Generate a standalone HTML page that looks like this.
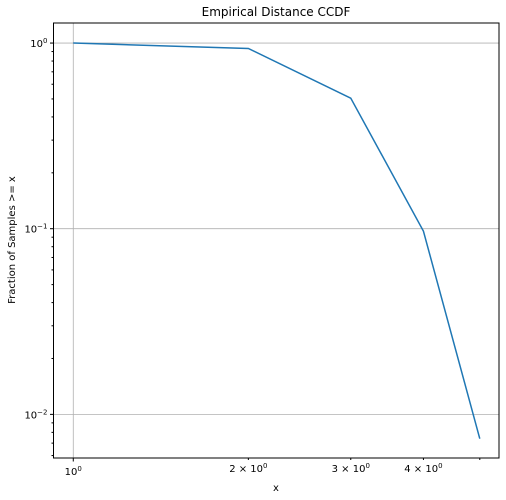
<!DOCTYPE html>
<html><head><meta charset="utf-8"><style>
body{margin:0;background:#fff;}
svg{display:block;font-family:"DejaVu Sans","Liberation Sans",sans-serif;}
</style></head><body>
<svg id="chart" width="506" height="500">
<text x="276" y="16" text-anchor="middle" font-size="12">Empirical Distance CCDF</text>
<text x="276" y="491" text-anchor="middle" font-size="10">x</text>
<text x="0" y="0" transform="translate(15,240) rotate(-90)" text-anchor="middle" font-size="10">Fraction of Samples &gt;= x</text>
</svg>
<script>
const xValues = [1, 2, 3, 4, 5];
const yValues = [1.0, 0.935, 0.505, 0.097, 0.0074];
const xMajorTicks = [1];
const xMajorLabels = ["0"];
const xMinorLabeled = [2, 3, 4];
const yMajorTicks = [1, 0.1, 0.01];
const yMajorExp = ["0", "\u22121", "\u22122"];

const L=53.5,R=499,T=23,B=458;
const xLogMin=-0.034,xLogMax=0.732,yLogMin=-2.235,yLogMax=0.108;
const sx=v=>L+(Math.log10(v)-xLogMin)/(xLogMax-xLogMin)*(R-L);
const sy=v=>B-(Math.log10(v)-yLogMin)/(yLogMax-yLogMin)*(B-T);
const NS="http://www.w3.org/2000/svg";
const svg=document.getElementById('chart');
function mk(tag,attrs,parent){const e=document.createElementNS(NS,tag);for(const k in attrs)e.setAttribute(k,attrs[k]);(parent||svg).appendChild(e);return e;}

xMajorTicks.forEach(v=>{const g=mk('line',{x1:sx(v),x2:sx(v),y1:T,y2:B,stroke:'#b0b0b0','stroke-width':0.8});

});
yMajorTicks.forEach(v=>{const g=mk('line',{x1:L,x2:R,y1:sy(v),y2:sy(v),stroke:'#b0b0b0','stroke-width':0.8});

});

const pts=xValues.map((x,i)=>sx(x)+','+sy(yValues[i])).join(' ');
const line=mk('polyline',{points:pts,fill:'none',stroke:'#1f77b4','stroke-width':1.5});



const fr=mk('rect',{x:L,y:T,width:R-L,height:B-T,fill:'none',stroke:'#000','stroke-width':1});



xMajorTicks.forEach((v,i)=>{mk('line',{x1:sx(v),x2:sx(v),y1:B,y2:B+3.5,stroke:'#000'});
const t=mk('text',{x:sx(v),y:B+17,'text-anchor':'middle','font-size':10});


t.innerHTML='10<tspan dy="-4" font-size="7">'+xMajorLabels[i]+'</tspan>';});
xMinorLabeled.concat([5]).forEach(v=>{mk('line',{x1:sx(v),x2:sx(v),y1:B,y2:B+2,stroke:'#000'});});
xMinorLabeled.forEach(v=>{const t=mk('text',{x:sx(v),y:B+14,'text-anchor':'middle','font-size':10});


t.innerHTML=v+' \u00d7 10<tspan dy="-4" font-size="7">0</tspan>';});

yMajorTicks.forEach((v,i)=>{mk('line',{x1:L,x2:L-3.5,y1:sy(v),y2:sy(v),stroke:'#000'});
const t=mk('text',{x:L-6,y:sy(v)+4,'text-anchor':'end','font-size':10});


t.innerHTML='10<tspan dy="-4" font-size="7">'+yMajorExp[i]+'</tspan>';});
[0.001,0.01,0.1].forEach(d=>{for(let k=2;k<10;k++){const v=k*d;const y=sy(v);if(y>T&&y<B)mk('line',{x1:L,x2:L-2,y1:y,y2:y,stroke:'#000'});}});
</script>
</body></html>
